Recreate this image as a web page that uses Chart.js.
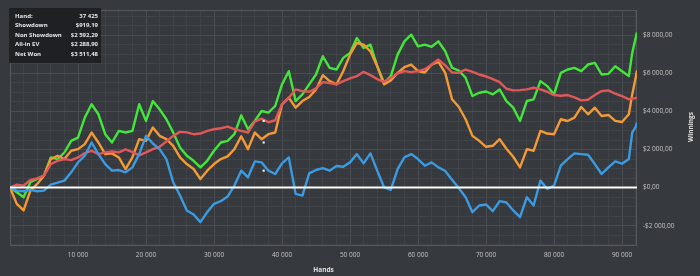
<!DOCTYPE html>
<html>
<head>
<meta charset="utf-8">
<script src="https://cdn.jsdelivr.net/npm/chart.js@4.4.1/dist/chart.umd.min.js"></script>
<style>
  html, body { margin: 0; padding: 0; background: #36393d; }
  #wrap { width: 700px; height: 276px; }
</style>
</head>
<body>
<div id="wrap"><canvas id="c" width="700" height="276"></canvas></div>
<script>
// ---- DATA ----
const hands = [
  0,1000,2000,3000,4000,5000,6000,7000,8000,9000,
  10000,11000,12000,13000,14000,15000,16000,17000,18000,19000,
  20000,21000,22000,23000,24000,25000,26000,27000,28000,29000,
  30000,31000,32000,33000,34000,35000,36000,37000,38000,39000,
  40000,41000,42000,43000,44000,45000,46000,47000,48000,49000,
  50000,51000,52000,53000,54000,55000,56000,57000,58000,59000,
  60000,61000,62000,63000,64000,65000,66000,67000,68000,69000,
  70000,71000,72000,73000,74000,75000,76000,77000,78000,79000,
  80000,81000,82000,83000,84000,85000,86000,87000,88000,89000,
  90000,91000,91500,92000,92200
];
const netWon = [
  0,-245,-505,280,455,630,1585,1500,1845,2460,
  2630,3680,4380,3855,2810,2370,2980,2895,2980,4380,
  3505,4550,4115,3590,2895,2110,1675,1410,1060,1410,
  1935,2370,2460,2810,3800,3068,3504,4027,3940,4289,
  5422,6119,4550,4899,5422,5945,6904,6293,6206,6817,
  7078,7863,7340,7514,6381,5509,5858,6991,7688,8037,
  7427,7514,7400,7688,7165,6300,6150,5771,4812,4986,
  5050,4900,5160,4550,4202,3504,4550,4637,5596,5335,
  4899,6032,6206,6293,6119,6468,6555,5945,5980,6381,
  6119,5858,7078,7863,8150
];
const orangeSeries = [
  0,-854,-1203,-157,192,628,1499,1674,1499,1935,
  2022,2284,2894,2371,1761,1800,1586,976,1586,2545,
  2458,3155,2720,2545,2197,1586,1237,976,453,889,
  1237,1499,1639,2022,2700,2022,2894,2545,2807,2894,
  4376,4725,4202,4550,4759,5160,5910,5596,5422,6119,
  6991,7601,7514,7165,6381,5422,5631,6032,6328,6468,
  6119,6050,6468,6607,6032,4640,4236,3591,2720,2458,
  2144,2197,2545,2040,1621,1063,2022,1935,2981,2842,
  2807,3591,3500,3679,4236,3853,4202,3766,3818,3504,
  3450,3853,4899,5771,6150
];
const redSeries = [
  0,157,105,401,488,628,1237,1412,1499,1447,
  1586,1813,1935,1761,1848,1900,1848,2005,1866,1691,
  1848,2022,2144,2423,2720,2929,2900,2807,2842,2981,
  3068,3120,3207,3068,2981,2894,3469,3626,3434,3539,
  4376,4725,5160,5073,5038,5212,5544,5500,5422,5596,
  5736,5858,6084,5910,5701,5561,5771,5997,6119,6067,
  6119,6224,6468,6729,6420,6050,6040,6206,6084,5945,
  5840,5701,5544,5195,5108,5125,5160,5247,5160,5038,
  4864,4829,4864,4742,4585,4620,4864,5073,5108,4934,
  4812,4637,4690,4690,4750
];
const blueSeries = [
  0,-157,-192,-122,-192,-157,157,262,366,802,
  1325,1674,2371,1761,1237,889,924,802,1063,1761,
  2720,2319,2022,1499,279,-418,-1203,-1412,-1813,-1290,
  -854,-715,-471,105,890,540,1377,1325,889,715,
  1272,1586,-331,-418,750,924,1028,889,1133,1098,
  1325,1761,1272,1796,889,17,-122,976,1586,1761,
  1499,1150,1325,1063,870,410,-30,-506,-1290,-941,
  -889,-1237,-715,-785,-1203,-1552,-506,-941,366,-70,
  105,1150,1499,1796,1761,1726,1237,715,1063,1377,
  1255,1499,2894,3190,3417
];
const zeroHands = [0, 92200];
const zeroValues = [0, 0];
const markerHands = [37300, 37300, 37300];
const markerValues = [3504, 2370, 890];

const statLabels = ['Hand:', 'Showdown', 'Non Showdown', 'All-in EV', 'Net Won'];
const statValues = ['37 425', '$919,19', '$2 592,29', '$2 288,90', '$3 511,48'];

const xTickStep = 2000, xLabelStep = 10000;
const yTickStep = 500, yLabelStep = 2000;
const xMin = 0, xMax = 92200, yMin = -3070, yMax = 9340;

// ---- helpers ----
function groupThousands(n) {
  return String(n).replace(/\B(?=(\d{3})+(?!\d))/g, ' ');
}
function fmtMoney(v) {
  const neg = v < 0;
  const a = Math.abs(v);
  const s = groupThousands(Math.floor(a)) + ',' + String(Math.round((a % 1) * 100)).padStart(2, '0');
  return (neg ? '-$' : '$') + s;
}
function pts(xs, ys) { return xs.map((x, i) => ({ x: x, y: ys[i] })); }

const FONT = '"Open Sans", "Noto Sans", sans-serif';
const BG = '#36393d';
const GRID_MAJOR = '#4a4d52';
const GRID_MINOR = '#3f4246';

const overlay = {
  id: 'overlay',
  beforeDraw(chart) {
    const c = chart.ctx;
    c.save();
    c.fillStyle = BG;
    c.fillRect(0, 0, chart.width, chart.height);
    c.restore();
  },
  beforeDatasetsDraw(chart) {
    const a = chart.chartArea, c = chart.ctx;
    c.save();
    c.strokeStyle = '#55585d';
    c.lineWidth = 1;
    c.strokeRect(Math.round(a.left) + 0.5, Math.round(a.top) + 0.5, Math.round(a.right - a.left) - 1, Math.round(a.bottom - a.top) - 1);
    c.restore();
  },
  afterDraw(chart) {
    const c = chart.ctx, a = chart.chartArea;
    c.save();
    // stats box
    c.fillStyle = 'rgba(28,30,33,0.92)';
    c.fillRect(9, 8, 92, 55);
    c.font = 'bold 6px ' + FONT;
    c.fillStyle = '#e6e6e6';
    c.textBaseline = 'middle';
    const rowY = [16, 25.5, 35, 44.5, 54];
    statLabels.forEach((t, i) => { c.textAlign = 'left'; c.fillText(t, 15, rowY[i]); });
    statValues.forEach((t, i) => { c.textAlign = 'right'; c.fillText(t, 98, rowY[i]); });
    // axis titles
    c.font = 'bold 6.5px ' + FONT;
    c.fillStyle = '#e0e0e0';
    c.textAlign = 'center';
    c.fillText('Hands', (a.left + a.right) / 2, 270);
    c.translate(691, 127);
    c.rotate(-Math.PI / 2);
    c.fillText('Winnings', 0, 0);
    c.restore();
  }
};

new Chart(document.getElementById('c'), {
  type: 'line',
  data: {
    datasets: [
      { label: 'zero', data: pts(zeroHands, zeroValues), borderColor: '#ffffff', borderWidth: 2, pointRadius: 0 },
      { label: 'markers', data: pts(markerHands, markerValues), showLine: false, pointStyle: 'rect', pointRadius: 1.5, pointBackgroundColor: '#f0f0f0', pointBorderWidth: 0 },
      { label: 'Blue', data: pts(hands, blueSeries), borderColor: '#3c9be0', borderWidth: 2.4, pointRadius: 0 },
      { label: 'Red', data: pts(hands, redSeries), borderColor: '#e05858', borderWidth: 2.4, pointRadius: 0 },
      { label: 'Orange', data: pts(hands, orangeSeries), borderColor: '#f39a36', borderWidth: 2.4, pointRadius: 0 },
      { label: 'Green', data: pts(hands, netWon), borderColor: '#45e63c', borderWidth: 2.4, pointRadius: 0 }
    ]
  },
  options: {
    responsive: false,
    animation: false,
    devicePixelRatio: 1,
    layout: { padding: { left: 10, top: 9, right: 0, bottom: 0 } },
    plugins: { legend: { display: false }, tooltip: { enabled: false } },
    elements: { line: { tension: 0, borderJoinStyle: 'round' } },
    scales: {
      x: {
        type: 'linear', position: 'bottom', min: xMin, max: xMax,
        afterBuildTicks(s) {
          const t = [];
          for (let v = xMin; v <= xMax; v += xTickStep) t.push({ value: v });
          s.ticks = t;
        },
        afterFit(s) { s.height = 30; },
        border: { display: false },
        grid: {
          drawTicks: false,
          color: (ctx) => (ctx.tick && ctx.tick.value % xLabelStep === 0) ? GRID_MAJOR : GRID_MINOR,
          lineWidth: 1
        },
        ticks: {
          autoSkip: false, maxRotation: 0, padding: 5,
          color: '#c4c4c4', font: { family: FONT, size: 6.5 },
          callback: (v) => (v % xLabelStep === 0 && v > 0) ? groupThousands(v) : ''
        }
      },
      y: {
        type: 'linear', position: 'right', min: yMin, max: yMax,
        afterBuildTicks(s) {
          const t = [];
          for (let v = -3000; v <= 9000; v += yTickStep) t.push({ value: v });
          s.ticks = t;
        },
        afterFit(s) { s.width = 63; },
        border: { display: false },
        grid: {
          drawTicks: false,
          color: (ctx) => (ctx.tick && ctx.tick.value % yLabelStep === 0) ? GRID_MAJOR : GRID_MINOR,
          lineWidth: 1
        },
        ticks: {
          autoSkip: false, padding: 6,
          color: '#c4c4c4', font: { family: FONT, size: 6.5 },
          callback: (v) => (v % yLabelStep === 0) ? fmtMoney(v) : ''
        }
      }
    }
  },
  plugins: [overlay]
});
</script>
</body>
</html>
